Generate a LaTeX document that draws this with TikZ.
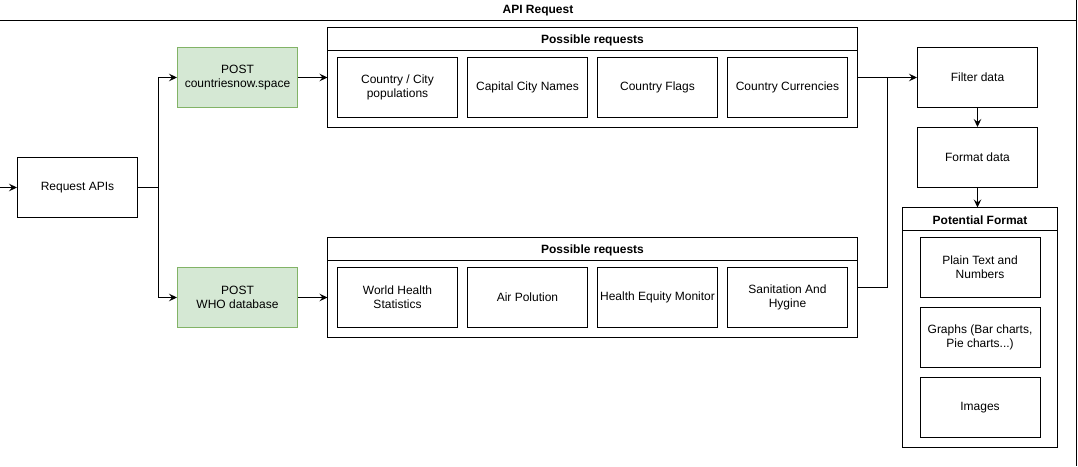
\documentclass[tikz,border=0pt]{standalone}
\usepackage{fontspec}
\setmainfont{Liberation Sans}
\usetikzlibrary{arrows.meta}
\begin{document}
\begin{tikzpicture}[x=1pt,y=-1pt,
  line width=1pt,
  every node/.style={font=\fontsize{12}{14}\selectfont, inner sep=0pt},
  box/.style={draw, minimum width=120pt, minimum height=60pt, align=center},
  greenbox/.style={box, fill={rgb,255:red,213;green,232;blue,212}, draw={rgb,255:red,130;green,179;blue,102}},
  hdr/.style={font=\bfseries\fontsize{12}{14}\selectfont},
  arr/.style={-{Stealth[length=8pt,width=7.5pt,inset=3pt]}},
]
\useasboundingbox (0,0) rectangle (1078,466);
% outer frame
\draw (0,20.5) -- (1076.5,20.5);
\draw (1076.5,0) -- (1076.5,466);
\node[hdr] (title) at (538,10.5) {API Request};

% left
\coordinate (start) at (0,187.5);
\node[box] (req) at (77.5,187.5) {Request APIs};
\node[greenbox] (post1) at (237.5,77.5) {POST\\countriesnow.space};
\node[greenbox] (post2) at (237.5,297.5) {POST\\WHO database};

% top container
\draw (327.5,27.5) rectangle (857.5,127.5);
\draw (327.5,50.5) -- (857.5,50.5);
\node[hdr] (h1) at (592.5,40) {Possible requests};
\coordinate (c1l) at (327.5,77.5);
\coordinate (c1r) at (857.5,77.5);
\node[box] (a1) at (397.5,87.5) {Country / City\\populations};
\node[box] (a2) at (527.5,87.5) {Capital City Names};
\node[box] (a3) at (657.5,87.5) {Country Flags};
\node[box] (a4) at (787.5,87.5) {Country Currencies};

% bottom container
\draw (327.5,237.5) rectangle (857.5,337.5);
\draw (327.5,260.5) -- (857.5,260.5);
\node[hdr] (h2) at (592.5,250) {Possible requests};
\coordinate (c2l) at (327.5,297.5);
\coordinate (c2r) at (857.5,287.5);
\node[box] (b1) at (397.5,297.5) {World Health\\Statistics};
\node[box] (b2) at (527.5,297.5) {Air Polution};
\node[box] (b3) at (657.5,297.5) {Health Equity Monitor};
\node[box] (b4) at (787.5,297.5) {Sanitation And\\Hygine};

% right
\node[box] (filter) at (977.5,77.5) {Filter data};
\node[box] (format) at (977.5,157.5) {Format data};
\draw (902.5,207.5) rectangle (1057.5,447.5);
\draw (902.5,230.5) -- (1057.5,230.5);
\coordinate (pftop) at (977.5,207.5);
\node[hdr] (h3) at (980,220) {Potential Format};
\node[box] (p1) at (980,267.5) {Plain Text and\\Numbers};
\node[box] (p2) at (980,337.5) {Graphs (Bar charts,\\Pie charts...)};
\node[box] (p3) at (980,407.5) {Images};

% connectors
\draw[arr] (start) -- (req.west);
\draw[arr] (req.east) -- ++(20,0) |- (post1.west);
\draw[arr] (req.east) -- ++(20,0) |- (post2.west);
\draw[arr] (post1.east) -- (c1l);
\draw[arr] (post2.east) -- (c2l);
\draw[arr] (c1r) -- (filter.west);
\draw (c2r) -| (887.5,77.5);
\draw[arr] (filter.south) -- (format.north);
\draw[arr] (format.south) -- (pftop);
\end{tikzpicture}
\end{document}
